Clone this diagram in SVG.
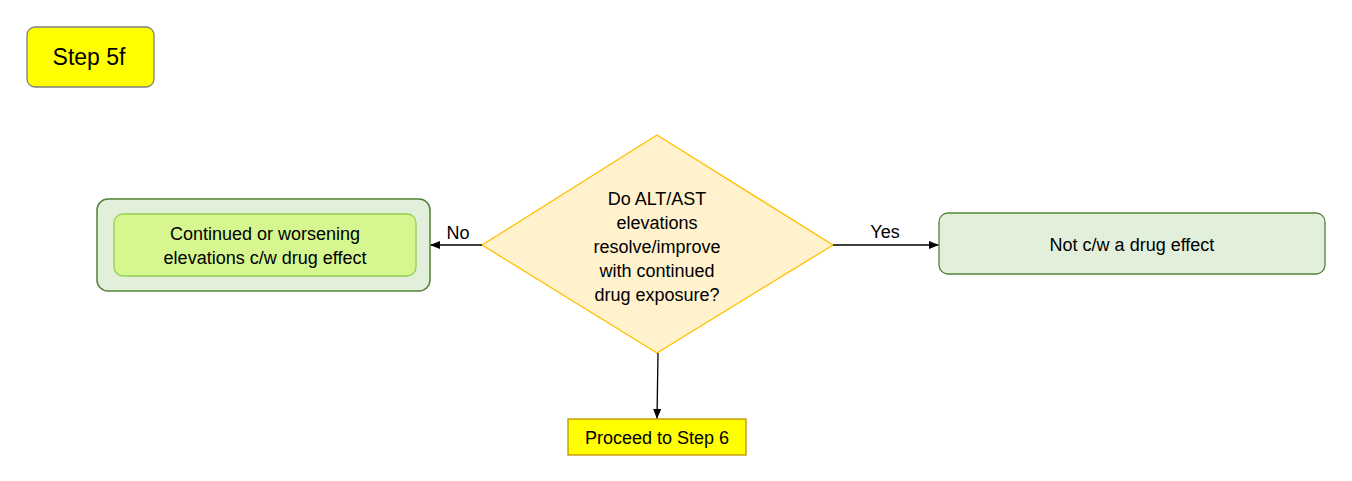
<svg xmlns="http://www.w3.org/2000/svg" width="1352" height="481" viewBox="0 0 1352 481">
<defs>
<marker id="ah" markerWidth="10" markerHeight="8" refX="9" refY="4" orient="auto" markerUnits="userSpaceOnUse">
<path d="M0,0 L10,4 L0,8 Z" fill="#000"/>
</marker>
<style>
text{font-family:"Liberation Sans",Arial,sans-serif;fill:#000;text-anchor:middle;dominant-baseline:central}
.t{font-size:18px}
.conn{stroke:#000;stroke-width:1.3;fill:none;marker-end:url(#ah)}
</style>
</defs>
<rect width="1352" height="481" fill="#fff"/>
<g id="step5f">
<rect x="27" y="27" width="127" height="60" rx="8" fill="#ffff00" stroke="#7f7f7f" stroke-width="1.3"/>
<text x="89" y="57" style="font-size:23px">Step 5f</text>
</g>
<g id="continued">
<rect x="97" y="199" width="333" height="92" rx="11" fill="#e2efda" stroke="#548235" stroke-width="1.5"/>
<rect x="114" y="214" width="302" height="62" rx="9" fill="#d6f78f" stroke="#92d050" stroke-width="1.3"/>
<text class="t" x="265" y="234">Continued or worsening</text>
<text class="t" x="265" y="258">elevations c/w drug effect</text>
</g>
<g id="decision">
<polygon points="657,135 833,245 657,353 482,245" fill="#fff2cc" stroke="#ffc000" stroke-width="1.3"/>
<text class="t" x="657" y="199">Do ALT/AST</text>
<text class="t" x="657" y="223">elevations</text>
<text class="t" x="657" y="247">resolve/improve</text>
<text class="t" x="657" y="271">with continued</text>
<text class="t" x="657" y="295">drug exposure?</text>
</g>
<g id="notdrug">
<rect x="939" y="213" width="386" height="61" rx="9" fill="#e2efda" stroke="#548235" stroke-width="1.3"/>
<text class="t" x="1132" y="245">Not c/w a drug effect</text>
</g>
<g id="proceed">
<rect x="568" y="419" width="178" height="36" fill="#ffff00" stroke="#bf9000" stroke-width="1.3"/>
<text class="t" x="657" y="438">Proceed to Step 6</text>
</g>
<g id="connectors">
<line class="conn" x1="482" y1="245" x2="431" y2="245"/>
<line class="conn" x1="833" y1="245" x2="938" y2="245"/>
<line class="conn" x1="658" y1="353" x2="657" y2="418"/>
<text class="t" x="458" y="233">No</text>
<text class="t" x="885" y="232">Yes</text>
</g>
</svg>
